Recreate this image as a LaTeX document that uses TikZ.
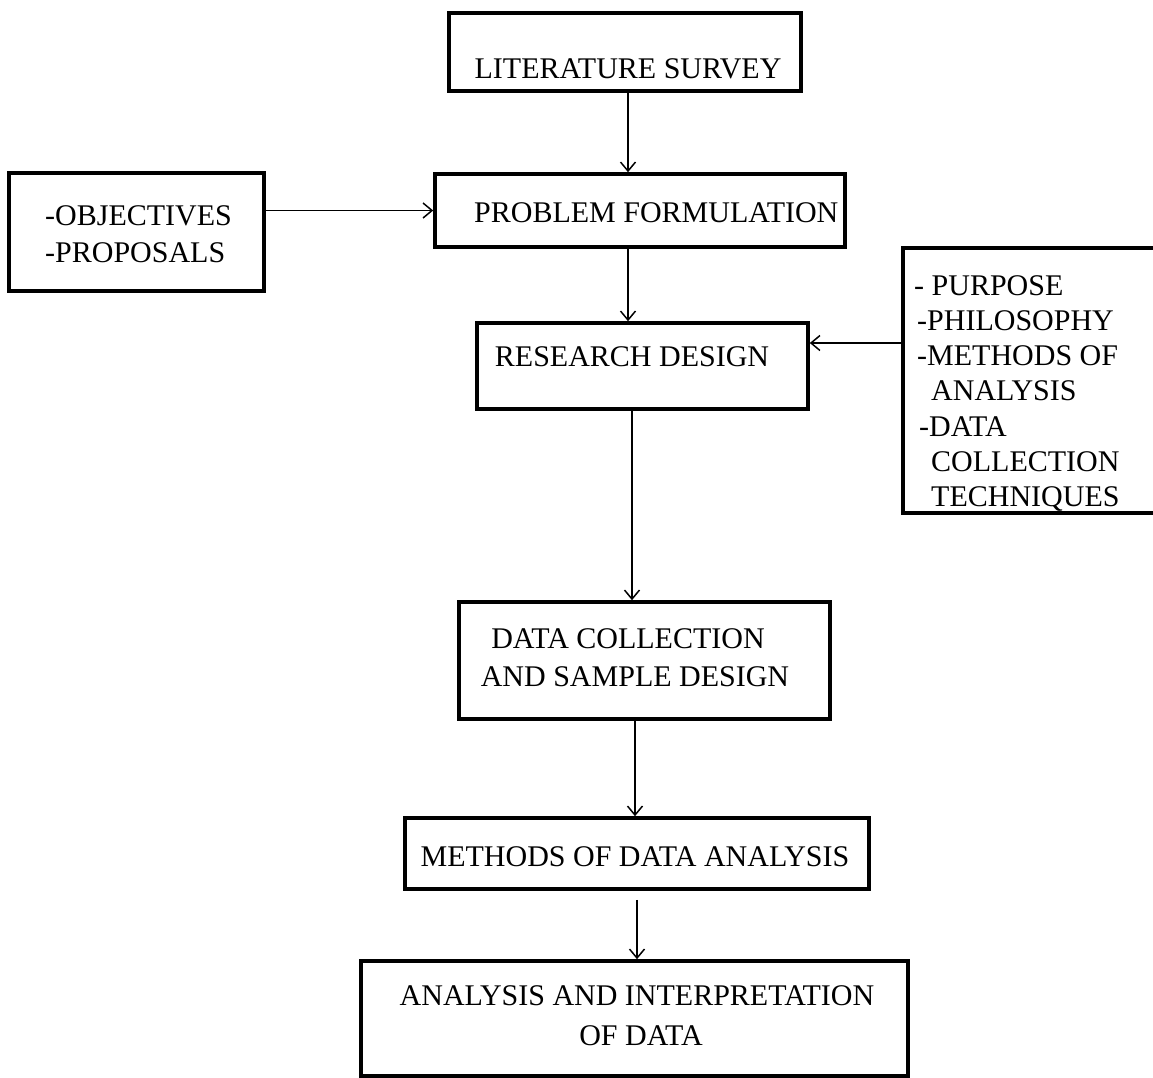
\documentclass[tikz,border=0pt]{standalone}
\usepackage{fontspec}
\setmainfont{Liberation Serif}
\usetikzlibrary{arrows.meta}

\begin{document}
\begin{tikzpicture}[x=1pt,y=-1pt,
  box/.style={draw, line width=3.6pt, rectangle, inner sep=0pt},
  lbl/.style={inner sep=0pt, font=\fontsize{30}{36}\selectfont},
  arr/.style={line width=1.5pt, -{Straight Barb[length=9pt,width=15pt,line width=1.5pt]}}]
  \useasboundingbox[fill=white] (0,0) rectangle (1153,1077);

  % boxes (centre, width, height)
  \node[box, minimum width=352pt, minimum height=78pt]  (ls)  at (625,52)    {};
  \node[box, minimum width=410pt, minimum height=73pt]  (pf)  at (640,210.5) {};
  \node[box, minimum width=255pt, minimum height=118pt] (obj) at (136.5,232) {};
  \node[box, minimum width=331pt, minimum height=86pt]  (rd)  at (642.5,366) {};
  \node[box, minimum width=267pt, minimum height=265pt] (rb)  at (1036.5,380.5) {};
  \node[box, minimum width=371pt, minimum height=117pt] (dc)  at (644.5,660.5) {};
  \node[box, minimum width=464pt, minimum height=71pt]  (mda) at (637,853.5) {};
  \node[box, minimum width=547pt, minimum height=115pt] (aid) at (634.5,1018.5) {};

  % texts
  \node[lbl, anchor=base] (lsT) at (628,78) {LITERATURE SURVEY};
  \node[lbl, anchor=base west] (pfT) at (474,222) {PROBLEM FORMULATION};
  \node[lbl, anchor=base west] (objA) at (45,225) {-OBJECTIVES};
  \node[lbl, anchor=base west] (objB) at (45,262) {-PROPOSALS};
  \node[lbl, anchor=base] (rdT) at (632,366) {RESEARCH DESIGN};
  \node[lbl, anchor=base west] (rbA) at (914,295)   {- PURPOSE};
  \node[lbl, anchor=base west] (rbB) at (917,330.3) {-PHILOSOPHY};
  \node[lbl, anchor=base west] (rbC) at (917,365.6) {-METHODS OF};
  \node[lbl, anchor=base west] (rbD) at (931,400.9) {ANALYSIS};
  \node[lbl, anchor=base west] (rbE) at (919,436.2) {-DATA};
  \node[lbl, anchor=base west] (rbF) at (931,471.5) {COLLECTION};
  \node[lbl, anchor=base west] (rbG) at (931,506.8) {TECHNIQUES};
  \node[lbl, anchor=base] (dcA) at (628,648) {DATA COLLECTION};
  \node[lbl, anchor=base] (dcB) at (635,686) {AND SAMPLE DESIGN};
  \node[lbl, anchor=base] (mdaT) at (635,866) {METHODS OF DATA ANALYSIS};
  \node[lbl, anchor=base] (aidA) at (637,1005) {ANALYSIS AND INTERPRETATION};
  \node[lbl, anchor=base] (aidB) at (641,1045) {OF DATA};

  % guide lines for the connectors
  \coordinate (sA) at (628,0);
  \coordinate (sB) at (632,0);
  \coordinate (sC) at (635,0);
  \coordinate (sD) at (637,0);
  \coordinate (hR) at (0,343);

  % connectors
  \draw[arr] (ls.south -| sA) -- (pf.north -| sA);
  \draw[arr] (obj.east |- pf.west) -- (pf.west);
  \draw[arr] (pf.south -| sA) -- (rd.north -| sA);
  \draw[arr] (rb.west |- hR) -- (rd.east |- hR);
  \draw[arr] (rd.south -| sB) -- (dc.north -| sB);
  \draw[arr] (dc.south -| sC) -- (mda.north -| sC);
  \draw[arr, shorten <=9pt] (mda.south -| sD) -- (aid.north -| sD);
\end{tikzpicture}
\end{document}
